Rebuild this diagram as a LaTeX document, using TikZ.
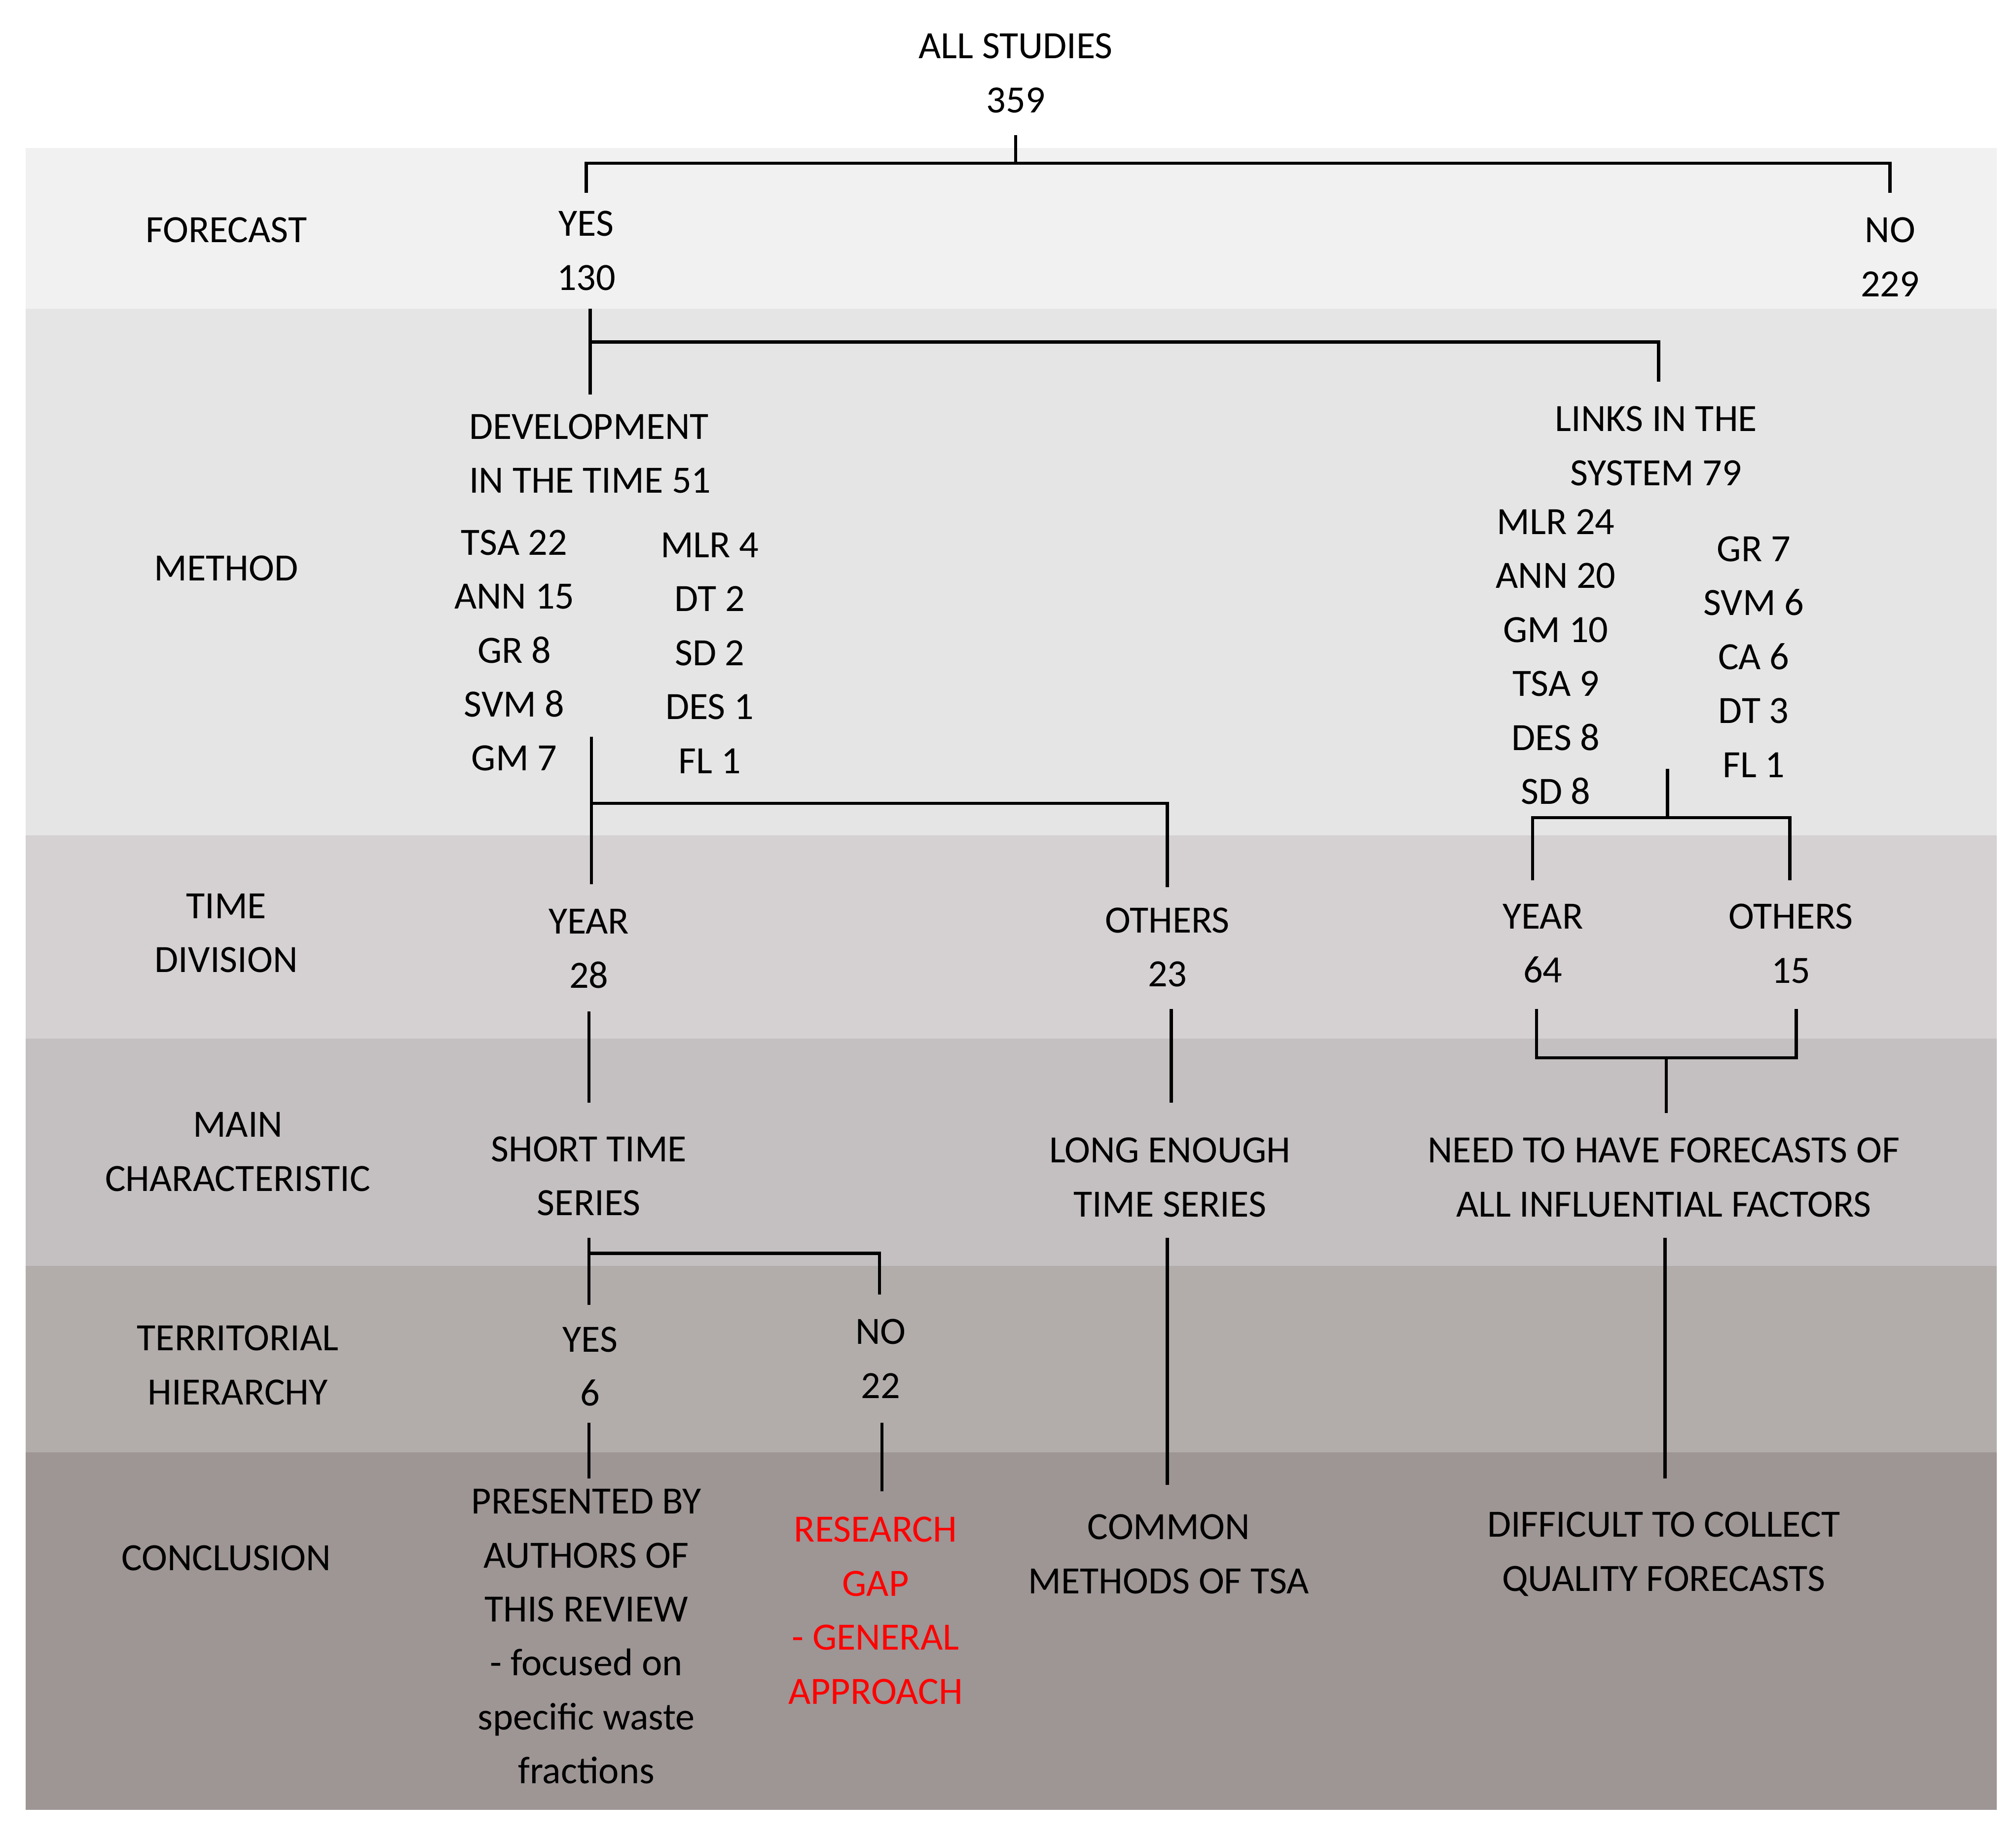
\documentclass[tikz,border=0pt]{standalone}
\usepackage{fontspec}
\setmainfont{Carlito}
\begin{document}
\begin{tikzpicture}[x=1pt,y=-1pt,
  t/.style={font=\fontsize{30}{42}\selectfont,align=center,inner sep=0pt},
  r/.style={t,text=red},
  ln/.style={line width=2.5pt}]
\useasboundingbox (0,0) rectangle (1568,1428);
\fill[white] (0,0) rectangle (1568,1428);
\fill[fill={rgb,255:red,241;green,241;blue,241}] (20,115) rectangle (1553,240);
\fill[fill={rgb,255:red,229;green,229;blue,229}] (20,240) rectangle (1553,650);
\fill[fill={rgb,255:red,213;green,208;blue,209}] (20,650) rectangle (1553,808);
\fill[fill={rgb,255:red,196;green,191;blue,192}] (20,808) rectangle (1553,985);
\fill[fill={rgb,255:red,178;green,173;blue,171}] (20,985) rectangle (1553,1130);
\fill[fill={rgb,255:red,158;green,149;blue,149}] (20,1130) rectangle (1553,1408);

\node[t] (all) at (790,57) {ALL STUDIES\\359};
\node[t] (lf) at (176,179) {FORECAST};
\node[t] (yes1) at (456,195) {YES\\130};
\node[t] (no1) at (1470,200) {NO\\229};
\node[t] (lm) at (176,442) {METHOD};
\node[t,align=left] (dev) at (459,353) {DEVELOPMENT\\IN THE TIME 51};
\node[t] (links) at (1288,347) {LINKS IN THE\\SYSTEM 79};
\node[t] (m1) at (400,506) {TSA 22\\ANN 15\\GR 8\\SVM 8\\GM 7};
\node[t] (m2) at (552,508) {MLR 4\\DT 2\\SD 2\\DES 1\\FL 1};
\node[t] (m3) at (1210,511) {MLR 24\\ANN 20\\GM 10\\TSA 9\\DES 8\\SD 8};
\node[t] (m4) at (1364,511) {GR 7\\SVM 6\\CA 6\\DT 3\\FL 1};
\node[t] (lt) at (176,726) {TIME\\DIVISION};
\node[t] (y28) at (458,738) {YEAR\\28};
\node[t] (o23) at (908,737) {OTHERS\\23};
\node[t] (y64) at (1200,734) {YEAR\\64};
\node[t] (o15) at (1393,734) {OTHERS\\15};
\node[t] (lc) at (185,896) {MAIN\\CHARACTERISTIC};
\node[t] (sts) at (458,915) {SHORT TIME\\SERIES};
\node[t] (lets) at (910,916) {LONG ENOUGH\\TIME SERIES};
\node[t] (need) at (1294,916) {NEED TO HAVE FORECASTS OF\\ALL INFLUENTIAL FACTORS};
\node[t] (lh) at (185,1062) {TERRITORIAL\\HIERARCHY};
\node[t] (yes6) at (459,1063) {YES\\6};
\node[t] (no22) at (685,1057) {NO\\22};
\node[t] (lcon) at (176,1212) {CONCLUSION};
\node[t] (pres) at (456,1273) {PRESENTED BY\\AUTHORS OF\\THIS REVIEW\\- focused on\\specific waste\\fractions};
\node[r] (gap) at (681,1253) {RESEARCH\\GAP\\- GENERAL\\APPROACH};
\node[t] (common) at (909,1209) {COMMON\\METHODS OF TSA};
\node[t] (diff) at (1294,1209) {DIFFICULT TO COLLECT\\QUALITY FORECASTS};

\coordinate (j1) at (790,127);
\draw[ln] (790,105) -- (j1);
\draw[ln] (456,150) |- (j1) -| (1470,150);
\coordinate (j2) at (459,266);
\draw[ln] (459,240) -- (459,307);
\draw[ln] (j2) -| (1290,297);
\coordinate (j3) at (460,625);
\draw[ln] (460,573) -- (460,688);
\draw[ln] (j3) -| (908,690);
\coordinate (j4) at (1297,636);
\draw[ln] (1297,598) -- (j4);
\draw[ln] (1192,685) |- (j4) -| (1392,685);
\draw[ln] (458,787) -- (458,858);
\draw[ln] (911,785) -- (911,858);
\coordinate (j5) at (1296,823);
\draw[ln] (1195,785) |- (j5) -| (1397,785);
\draw[ln] (j5) -- (1296,866);
\coordinate (j6) at (458,975);
\draw[ln] (458,963) -- (458,1015);
\draw[ln] (j6) -| (684,1007);
\draw[ln] (908,963) -- (908,1155);
\draw[ln] (1295,963) -- (1295,1150);
\draw[ln] (458,1107) -- (458,1150);
\draw[ln] (686,1107) -- (686,1160);
\end{tikzpicture}
\end{document}
